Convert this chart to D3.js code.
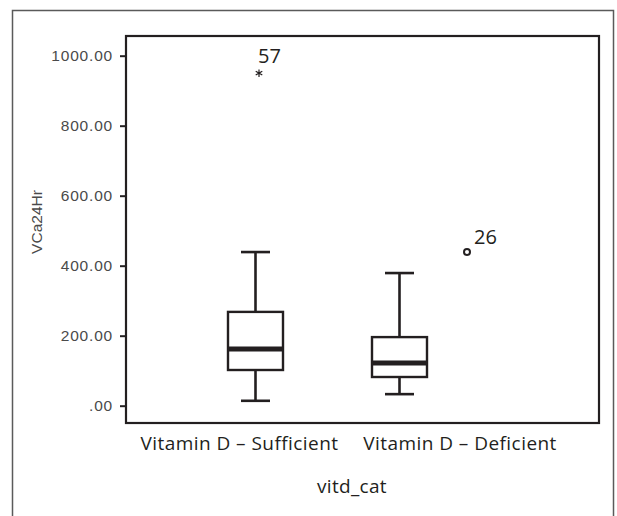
<!DOCTYPE html>
<html><head><meta charset="utf-8">
<script src="https://cdn.jsdelivr.net/npm/d3@7"></script>
<style>body{margin:0;background:#fff}svg{display:block}</style>
</head><body>
<svg id="c" width="617" height="516"></svg>
<script>
// ---- data ----
const categories = ["Vitamin D \u2013 Sufficient", "Vitamin D \u2013 Deficient"];
const whiskerLow  = [14, 33];
const q1          = [102, 82];
const median      = [162, 122];
const q3          = [268, 196];
const whiskerHigh = [439, 379];
const outlierCat   = [0, 1];
const outlierValue = [950, 439];
const outlierId    = ["57", "26"];
const outlierKind  = ["extreme", "outlier"];
const yTicks = [0, 200, 400, 600, 800, 1000];
const yTitle = "VCa24Hr";
const xTitle = "vitd_cat";

// ---- layout ----
const svg = d3.select("#c");
const plot = {left: 126, right: 599, top: 36, bottom: 423};
const ink = "#231f20";
const labelFont = "'Open Sans', Lato, sans-serif";
const tickFont = "'Liberation Sans', Arial, sans-serif";

const y = d3.scaleLinear().domain([0, 1000]).range([405.7, 55.7]);
const x = d3.scalePoint().domain(categories).range([255.5, 399.5]);
const xLab = d3.scalePoint().domain(categories).range([239.5, 460]);
const outlierDx = [3.5, 67.5];

// outer frame
svg.append("rect").attr("x", 12.5).attr("y", 10.5).attr("width", 601).attr("height", 540)
  .attr("fill", "none").attr("stroke", "#5a5a5a").attr("stroke-width", 1.5);

// y axis ticks
const yAxis = d3.axisLeft(y).tickValues(yTicks).tickSize(6).tickPadding(7)
  .tickFormat(d => d === 0 ? ".00" : d3.format(".2f")(d));
const ga = svg.append("g").attr("transform", `translate(${plot.left},0)`).call(yAxis)
  .attr("font-family", null).attr("font-size", null);
ga.select(".domain").remove();
ga.selectAll(".tick line").attr("stroke", ink).attr("stroke-width", 2);
ga.selectAll(".tick text").attr("fill", "#4a4a4a")
  .style("font-family", tickFont).style("font-size", "15.5px")
  .style("letter-spacing", "0.8px");

// plot frame
svg.append("rect").attr("x", plot.left).attr("y", plot.top)
  .attr("width", plot.right - plot.left).attr("height", plot.bottom - plot.top)
  .attr("fill", "none").attr("stroke", ink).attr("stroke-width", 2.2);

// boxes
const boxW = 55, capW = 29;
categories.forEach((c, i) => {
  const cx = x(c);
  const g = svg.append("g");
  g.append("line").attr("x1", cx).attr("x2", cx).attr("y1", y(whiskerHigh[i])).attr("y2", y(q3[i]))
    .attr("stroke", ink).attr("stroke-width", 2.6);
  g.append("line").attr("x1", cx).attr("x2", cx).attr("y1", y(q1[i])).attr("y2", y(whiskerLow[i]))
    .attr("stroke", ink).attr("stroke-width", 2.6);
  [whiskerHigh[i], whiskerLow[i]].forEach(v => {
    g.append("line").attr("x1", cx - capW / 2).attr("x2", cx + capW / 2).attr("y1", y(v)).attr("y2", y(v))
      .attr("stroke", ink).attr("stroke-width", 2.6);
  });
  g.append("rect").attr("x", cx - boxW / 2).attr("y", y(q3[i]))
    .attr("width", boxW).attr("height", y(q1[i]) - y(q3[i]))
    .attr("fill", "#fff").attr("stroke", ink).attr("stroke-width", 2.4);
  g.append("line").attr("x1", cx - boxW / 2).attr("x2", cx + boxW / 2)
    .attr("y1", y(median[i])).attr("y2", y(median[i]))
    .attr("stroke", ink).attr("stroke-width", 5);
});

// outliers
outlierValue.forEach((v, i) => {
  const c = categories[outlierCat[i]];
  const px = x(c) + outlierDx[i], py = y(v);
  if (outlierKind[i] === "extreme") {
    svg.append("path").attr("d", d3.symbol(d3.symbolAsterisk, 40)())
      .attr("transform", `translate(${px},${py})`).attr("stroke", ink).attr("stroke-width", 1.2).attr("fill", "none");
    svg.append("text").attr("x", px - 1).attr("y", py - 10).text(outlierId[i])
      .attr("fill", ink).style("font-family", labelFont).style("font-size", "20px");
  } else {
    svg.append("circle").attr("cx", px).attr("cy", py).attr("r", 3)
      .attr("fill", "#fff").attr("stroke", ink).attr("stroke-width", 2);
    svg.append("text").attr("x", px + 7).attr("y", py - 8).text(outlierId[i])
      .attr("fill", ink).style("font-family", labelFont).style("font-size", "20px");
  }
});

// category labels
svg.selectAll("text.cat").data(categories).enter().append("text").attr("class", "cat")
  .attr("x", d => xLab(d)).attr("y", 450).attr("text-anchor", "middle").text(d => d)
  .attr("fill", ink).style("font-family", labelFont).style("font-size", "19px")
  .style("letter-spacing", "0.45px");

// axis titles
svg.append("text").attr("x", 352).attr("y", 493).attr("text-anchor", "middle").text(xTitle)
  .attr("fill", ink).style("font-family", labelFont).style("font-size", "19px")
  .style("letter-spacing", "0.3px");
svg.append("text").attr("transform", "translate(42,222) rotate(-90)").attr("text-anchor", "middle")
  .text(yTitle).attr("fill", "#4a4a4a")
  .style("font-family", tickFont).style("font-size", "15.5px");
</script>
</body></html>
